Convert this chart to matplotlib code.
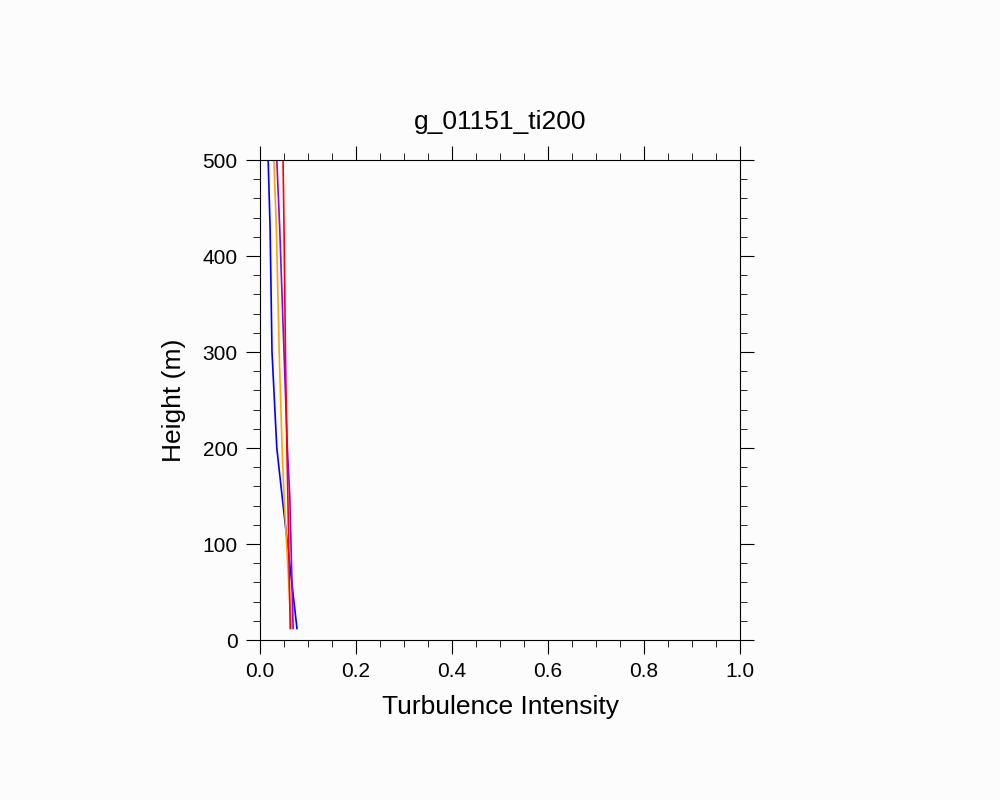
import matplotlib
matplotlib.use("Agg")
import matplotlib.pyplot as plt
from matplotlib.ticker import MultipleLocator

plt.rcParams["font.family"] = "Liberation Sans"

heights = [12, 150, 200, 300, 430, 500]
blue = [0.077, 0.046, 0.035, 0.025, 0.021, 0.017]
orange = [0.065, 0.050, 0.046, 0.040, 0.034, 0.029]
purple = [0.069, 0.062, 0.057, 0.050, 0.041, 0.035]
red = [0.063, 0.058, 0.056, 0.053, 0.050, 0.048]

fig = plt.figure(figsize=(10, 8), dpi=100, facecolor="#fcfcfc")
ax = fig.add_axes([0.26, 0.2, 0.48, 0.6])
ax.set_facecolor("#fcfcfc")
for vals, c in [(blue, "blue"), (orange, "orange"), (purple, "#8800ff"), (red, "red")]:
    ax.plot(vals, heights, color=c, lw=1.2)
ax.set_xlim(0, 1)
ax.set_ylim(0, 500)
ax.xaxis.set_major_locator(MultipleLocator(0.2))
ax.xaxis.set_minor_locator(MultipleLocator(0.05))
ax.yaxis.set_major_locator(MultipleLocator(100))
ax.yaxis.set_minor_locator(MultipleLocator(20))
ax.tick_params(which="both", direction="out", top=True, right=True, labelsize=15)
ax.tick_params(which="major", length=10, pad=6)
ax.tick_params(which="minor", length=5)
ax.set_xlabel("Turbulence Intensity", fontsize=19, labelpad=10)
ax.set_ylabel("Height (m)", fontsize=19, labelpad=12)
ax.set_title("g_01151_ti200", fontsize=19, pad=22)
fig.savefig("out.png", facecolor=fig.get_facecolor())
